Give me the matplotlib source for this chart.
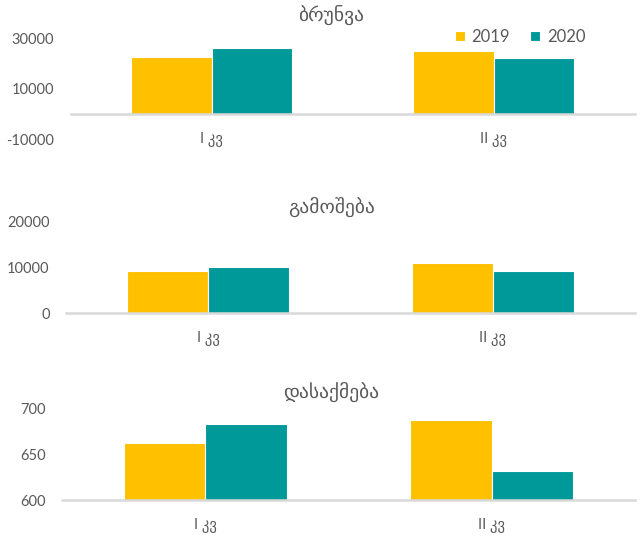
import matplotlib.pyplot as plt
import numpy as np

plt.rcParams['font.family'] = ['Lato', 'DejaVu Sans']

quarters = ['I კვ', 'II კვ']
years = ['2019', '2020']
colors = ['#FFC000', '#009999']

titles = ['ბრუნვა', 'გამოშება', 'დასაქმება']
turnover = {'2019': [22600, 24800], '2020': [26100, 22300]}
output = {'2019': [9250, 11000], '2020': [10200, 9150]}
employment = {'2019': [663, 688], '2020': [684, 632]}

datasets = [turnover, output, employment]
ylims = [(-10000, 30000), (0, 20000), (600, 700)]
yticks = [[-10000, 10000, 30000], [0, 10000, 20000], [600, 650, 700]]
# axes boxes [left, bottom, width, height] in figure fraction
boxes = [[0.110, 0.739, 0.877, 0.190],
         [0.103, 0.416, 0.884, 0.170],
         [0.097, 0.067, 0.890, 0.170]]
title_y = [0.972, 0.614, 0.268]

fig = plt.figure(figsize=(6.43, 5.36), dpi=100)
x = np.arange(len(quarters))
w = 0.285

for i, data in enumerate(datasets):
    ax = fig.add_axes(boxes[i])
    for j, yr in enumerate(years):
        ax.bar(x + (j - 0.5) * w, data[yr], width=w, color=colors[j],
               edgecolor='white', linewidth=0.8, label=yr, zorder=2)
    ax.set_xlim(-0.5, 1.5)
    ax.set_ylim(*ylims[i])
    ax.set_yticks(yticks[i])
    ax.set_yticklabels([str(t) for t in yticks[i]])
    ax.set_xticks(x)
    ax.set_xticklabels(quarters)
    for s in ['top', 'right', 'left']:
        ax.spines[s].set_visible(False)
    base = 0 if i < 2 else 600
    ax.spines['bottom'].set_position(('data', base))
    ax.spines['bottom'].set_color('#D9D9D9')
    ax.spines['bottom'].set_linewidth(1.8)
    ax.spines['bottom'].set_zorder(3)
    ax.tick_params(axis='both', length=0, colors='#595959', labelsize=10.5)
    ax.tick_params(axis='x', pad=13)
    ax.tick_params(axis='y', pad=12)
    fig.text(0.515, title_y[i], titles[i], ha='center', va='center',
             fontsize=14, color='#595959', family='DejaVu Sans')
    if i == 0:
        fig.legend(*ax.get_legend_handles_labels(), loc='center left',
                   bbox_to_anchor=(455 / 643, 1 - 37 / 536), ncol=2,
                   frameon=False, fontsize=12, handlelength=0.6,
                   handleheight=0.6, columnspacing=1.2, handletextpad=0.4,
                   borderpad=0, borderaxespad=0, labelcolor='#595959')

fig.savefig('out.png', dpi=100)
